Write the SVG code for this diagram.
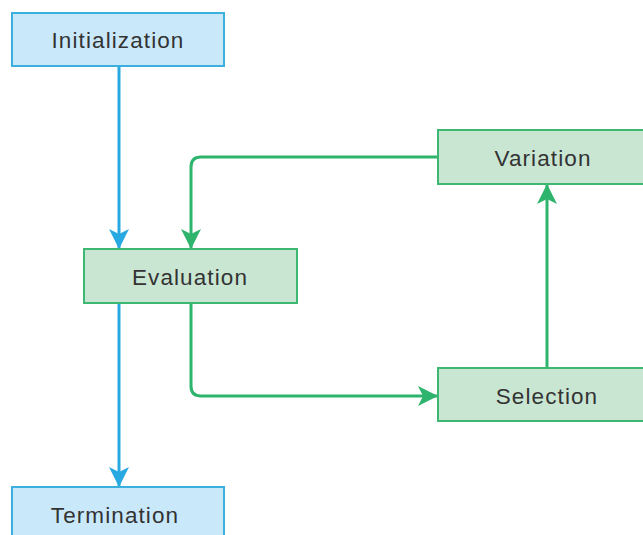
<svg xmlns="http://www.w3.org/2000/svg" width="643" height="535" viewBox="0 0 643 535">
<defs>
<style>
.blue rect{fill:#C9E9FB;stroke:#3BB0DE;stroke-width:2}
.green rect{fill:#C9E6D3;stroke:#3DB873;stroke-width:2}
text{font-family:"Liberation Sans",Arial,sans-serif;font-size:22.5px;fill:#333;text-anchor:middle;dominant-baseline:central;letter-spacing:1.1px}
.cb{fill:none;stroke:#29A9E1;stroke-width:3}
.cg{fill:none;stroke:#2EB46D;stroke-width:3}
</style>
<marker id="ab" viewBox="0 0 20 22" refX="20" refY="11" markerWidth="20" markerHeight="22" markerUnits="userSpaceOnUse" orient="auto">
<path d="M0,1 L20,11 L0,21 L5,11 Z" fill="#29A9E1"/>
</marker>
<marker id="ag" viewBox="0 0 20 22" refX="20" refY="11" markerWidth="20" markerHeight="22" markerUnits="userSpaceOnUse" orient="auto">
<path d="M0,1 L20,11 L0,21 L5,11 Z" fill="#2EB46D"/>
</marker>
</defs>
<rect width="643" height="535" fill="#fff"/>
<g id="connectors">
<path class="cb" d="M119,66 V249" marker-end="url(#ab)"/>
<path class="cb" d="M119,303 V487" marker-end="url(#ab)"/>
<path class="cg" d="M438,157 H201 Q191,157 191,167 V249" marker-end="url(#ag)"/>
<path class="cg" d="M191,303 V386 Q191,396 201,396 H438" marker-end="url(#ag)"/>
<path class="cg" d="M547,368 V184" marker-end="url(#ag)"/>
</g>
<g id="initialization" class="blue">
<rect x="12" y="13" width="212" height="53"/>
<text x="118" y="40">Initialization</text>
</g>
<g id="evaluation" class="green">
<rect x="84" y="249" width="213" height="54"/>
<text x="190" y="277">Evaluation</text>
</g>
<g id="variation" class="green">
<rect x="438" y="130" width="213" height="54"/>
<text x="543" y="158">Variation</text>
</g>
<g id="selection" class="green">
<rect x="438" y="368" width="213" height="53"/>
<text x="547" y="396">Selection</text>
</g>
<g id="termination" class="blue">
<rect x="12" y="487" width="212" height="60"/>
<text x="115" y="515">Termination</text>
</g>
</svg>
